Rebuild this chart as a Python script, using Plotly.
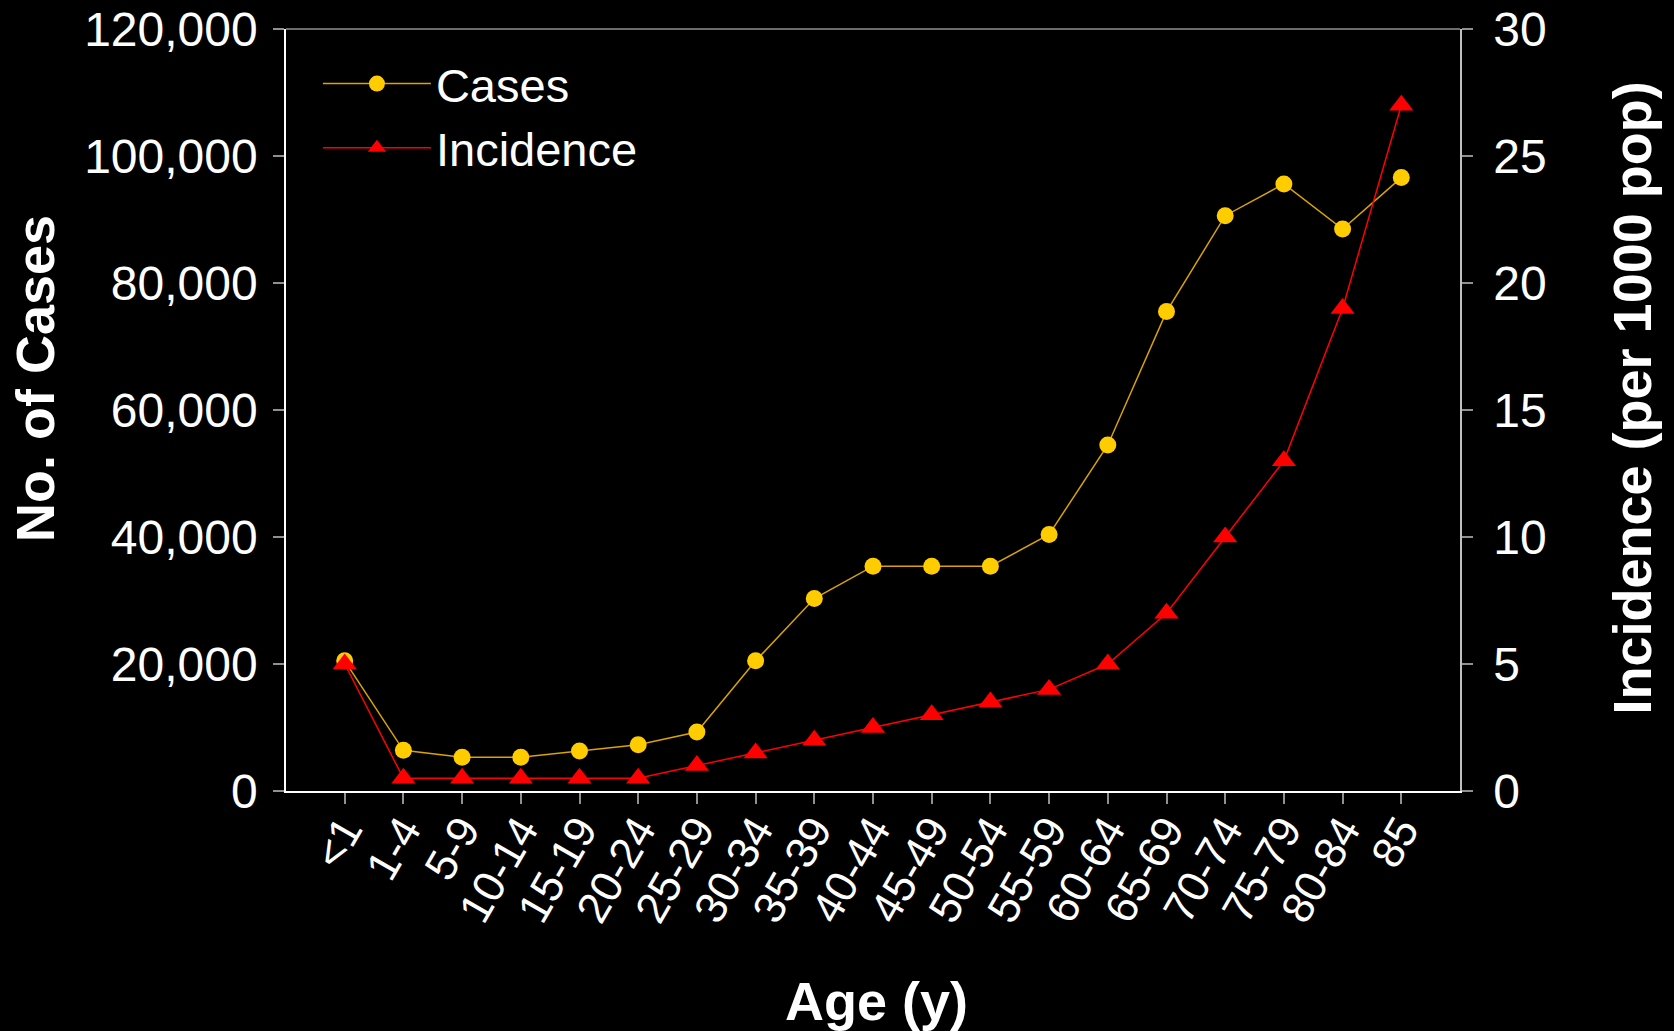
import plotly.graph_objects as go

age_groups = ["<1", "1-4", "5-9", "10-14", "15-19", "20-24", "25-29", "30-34", "35-39",
              "40-44", "45-49", "50-54", "55-59", "60-64", "65-69", "70-74", "75-79", "80-84", "85"]
cases = [20500, 6400, 5300, 5300, 6300, 7300, 9300, 20500, 30300,
         35400, 35400, 35400, 40400, 54500, 75500, 90600, 95600, 88500, 96600]
incidence = [5, 0.5, 0.5, 0.5, 0.5, 0.5, 1, 1.5, 2,
             2.5, 3, 3.5, 4, 5, 7, 10, 13, 19, 27]

FONT = "Liberation Sans, Arial, sans-serif"

fig = go.Figure()
fig.add_trace(go.Scatter(
    x=age_groups, y=cases, name="Cases", mode="lines+markers",
    line=dict(color="#D9A300", width=1.5),
    marker=dict(symbol="circle", size=17, color="#FFCC00", line=dict(width=0)),
    yaxis="y"))
fig.add_trace(go.Scatter(
    x=age_groups, y=incidence, name="Incidence", mode="lines+markers",
    line=dict(color="#FF0000", width=1.5),
    marker=dict(symbol="triangle-up", size=21, color="#FF0000", line=dict(width=0)),
    yaxis="y2"))

tickfont = dict(family=FONT, size=48, color="white")
fig.update_layout(
    width=1674, height=1031,
    paper_bgcolor="black", plot_bgcolor="black",
    margin=dict(l=286, r=214, t=29, b=240, autoexpand=False),
    showlegend=True,
    legend=dict(x=0.0272, y=0.977, xanchor="left", yanchor="top",
                bgcolor="rgba(0,0,0,0)", font=dict(family=FONT, size=47, color="white"),
                itemwidth=108, tracegroupgap=0),
    xaxis=dict(type="category", range=[-1, 19], tickangle=-60,
               tickfont=dict(family=FONT, size=44, color="white"),
               automargin=False, ticklabelstandoff=-17,
               showline=True, linecolor="white", linewidth=1.5,
               ticks="outside", ticklen=11, tickcolor="#909090", tickwidth=1.5,
               showgrid=False, zeroline=False),
    yaxis=dict(range=[0, 120000], dtick=20000, tickformat=",", tickfont=tickfont,
               automargin=False, ticklabelstandoff=6,
               showline=True, linecolor="white", linewidth=1.5,
               ticks="outside", ticklen=11, tickcolor="#909090", tickwidth=1.5,
               showgrid=False, zeroline=False),
    yaxis2=dict(range=[0, 30], dtick=5, tickfont=tickfont, overlaying="y", side="right",
                automargin=False, ticklabelstandoff=11,
                showline=True, linecolor="#C0C0C0", linewidth=1.5,
                ticks="outside", ticklen=11, tickcolor="#909090", tickwidth=1.5,
                showgrid=False, zeroline=False),
    shapes=[dict(type="line", xref="paper", yref="paper", x0=0, x1=1, y0=1, y1=1,
                 line=dict(color="#909090", width=1.5))],
    annotations=[
        dict(text="<b>No. of Cases</b>", xref="paper", yref="paper", x=-0.2138, y=0.542,
             xanchor="center", yanchor="middle", textangle=-90, showarrow=False,
             font=dict(family=FONT, size=54, color="white")),
        dict(text="<b>Incidence (per 1000 pop)</b>", xref="paper", yref="paper", x=1.1469, y=0.5157,
             xanchor="center", yanchor="middle", textangle=-90, showarrow=False,
             font=dict(family=FONT, size=54, color="white")),
        dict(text="<b>Age (y)</b>", xref="paper", yref="paper", x=0.5032, y=-0.2756,
             xanchor="center", yanchor="middle", showarrow=False,
             font=dict(family=FONT, size=54, color="white")),
    ],
)

fig.write_html("out.html")
